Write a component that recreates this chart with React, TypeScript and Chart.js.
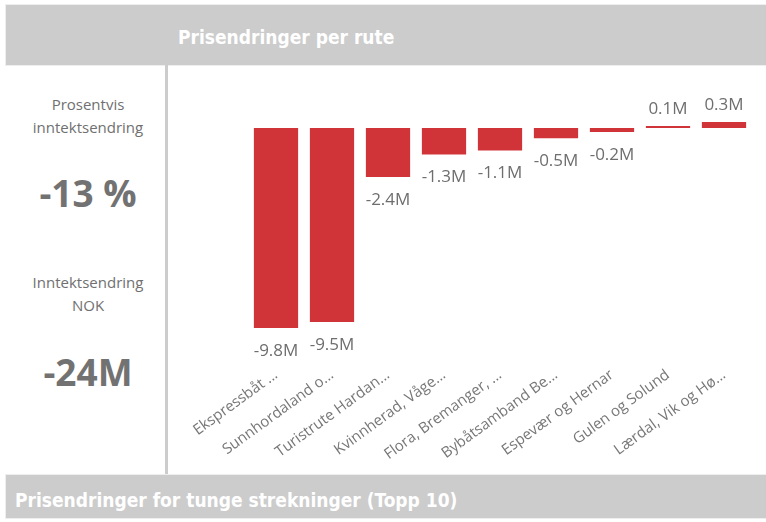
import React, { useEffect, useRef } from "react";
import { Chart, registerables } from "chart.js";

Chart.register(...registerables);

const routes: string[] = [
  "Ekspressbåt ...",
  "Sunnhordaland o...",
  "Turistrute Hardan...",
  "Kvinnherad, Våge...",
  "Flora, Bremanger, ...",
  "Bybåtsamband Be...",
  "Espevær og Hernar",
  "Gulen og Solund",
  "Lærdal, Vik og Hø...",
];
const changeM: number[] = [-9.8, -9.5, -2.4, -1.3, -1.1, -0.5, -0.2, 0.1, 0.3];
const dataLabels: string[] = ["-9.8M", "-9.5M", "-2.4M", "-1.3M", "-1.1M", "-0.5M", "-0.2M", "0.1M", "0.3M"];

const pctLabel = ["Prosentvis", "inntektsendring"];
const pctValue = "-13 %";
const nokLabel = ["Inntektsendring", "NOK"];
const nokValue = "-24M";
const mainTitle = "Prisendringer per rute";
const bottomTitle = "Prisendringer for tunge strekninger (Topp 10)";

const RED = "#D03438";
const GREY = "#cccccc";
const TEXT = "#6e6e6e";
const FONT = "'Open Sans', 'Noto Sans', sans-serif";
const TITLE_FONT = "'DejaVu Sans Condensed', 'DejaVu Sans', sans-serif";

const labelPlugin = {
  id: "barLabels",
  afterDatasetsDraw(chart: any) {
    const ctx = chart.ctx;
    const meta = chart.getDatasetMeta(0);
    ctx.save();
    ctx.font = `17px ${FONT}`;
    ctx.fillStyle = TEXT;
    ctx.textAlign = "center";
    ctx.textBaseline = "middle";
    meta.data.forEach((bar: any, i: number) => {
      const v = changeM[i];
      const y = v < 0 ? bar.y + 23 : bar.y - 17;
      ctx.fillText(dataLabels[i], bar.x, y);
    });
    ctx.restore();
  },
};

function BarChart() {
  const ref = useRef<HTMLCanvasElement>(null);
  useEffect(() => {
    if (!ref.current) return;
    const chart = new Chart(ref.current, {
      type: "bar",
      data: {
        labels: routes,
        datasets: [
          {
            data: changeM,
            backgroundColor: RED,
            borderWidth: 0,
            categoryPercentage: 0.79,
            barPercentage: 1,
          },
        ],
      },
      options: {
        animation: false,
        responsive: false,
        maintainAspectRatio: false,
        layout: { padding: { left: 80, right: 14, top: 24, bottom: 0 } },
        plugins: { legend: { display: false }, tooltip: { enabled: false } },
        scales: {
          x: {
            grid: { display: false, drawTicks: false },
            border: { display: false },
            ticks: {
              color: "#777",
              font: { size: 15, family: FONT },
              minRotation: 36,
              maxRotation: 36,
              padding: 1,
              autoSkip: false,
            },
            afterFit: (scale: any) => {
              scale.height = 109;
            },
          },
          y: {
            display: false,
            min: -11.612,
            max: 1.862,
          },
        },
      },
      plugins: [labelPlugin],
    });
    return () => chart.destroy();
  }, []);
  return <canvas ref={ref} width={598} height={408} style={{ display: "block" }} />;
}

export default function App() {
  const smallText: React.CSSProperties = {
    position: "absolute",
    left: 0,
    width: 176,
    textAlign: "center",
    fontFamily: FONT,
    fontSize: 15,
    color: "#707070",
    lineHeight: "23px",
  };
  const bigText: React.CSSProperties = {
    position: "absolute",
    left: 0,
    width: 176,
    textAlign: "center",
    fontFamily: FONT,
    fontSize: 37,
    fontWeight: 700,
    color: "#727272",
    lineHeight: "40px",
  };
  return (
    <div style={{ position: "fixed", left: 0, top: 0, width: 766, height: 522, background: "#fff", overflow: "hidden" }}>
      <div
        style={{
          position: "absolute",
          left: 6,
          top: 5,
          width: 760,
          height: 60,
          background: GREY,
          boxShadow: "0 0 0 1px #eeeeee",
        }}
      />
      <div
        style={{
          position: "absolute",
          left: 178,
          top: 24,
          fontFamily: TITLE_FONT,
          fontWeight: 700,
          fontSize: 19,
          color: "#fff",
          lineHeight: "26px",
        }}
      >
        {mainTitle}
      </div>
      <div style={{ position: "absolute", left: 165, top: 65, width: 3, height: 410, background: GREY }} />
      <div style={{ ...smallText, top: 93 }}>
        {pctLabel[0]}
        <br />
        {pctLabel[1]}
      </div>
      <div style={{ ...bigText, top: 173 }}>{pctValue}</div>
      <div style={{ ...smallText, top: 271 }}>
        {nokLabel[0]}
        <br />
        {nokLabel[1]}
      </div>
      <div style={{ ...bigText, top: 352 }}>{nokValue}</div>
      <div style={{ position: "absolute", left: 168, top: 66 }}>
        <BarChart />
      </div>
      <div
        style={{
          position: "absolute",
          left: 6,
          top: 475,
          width: 760,
          height: 43,
          background: GREY,
          boxShadow: "0 0 0 1px #eeeeee",
        }}
      />
      <div
        style={{
          position: "absolute",
          left: 15,
          top: 487,
          fontFamily: TITLE_FONT,
          fontWeight: 700,
          fontSize: 19,
          color: "#fff",
          lineHeight: "26px",
        }}
      >
        {bottomTitle}
      </div>
    </div>
  );
}
